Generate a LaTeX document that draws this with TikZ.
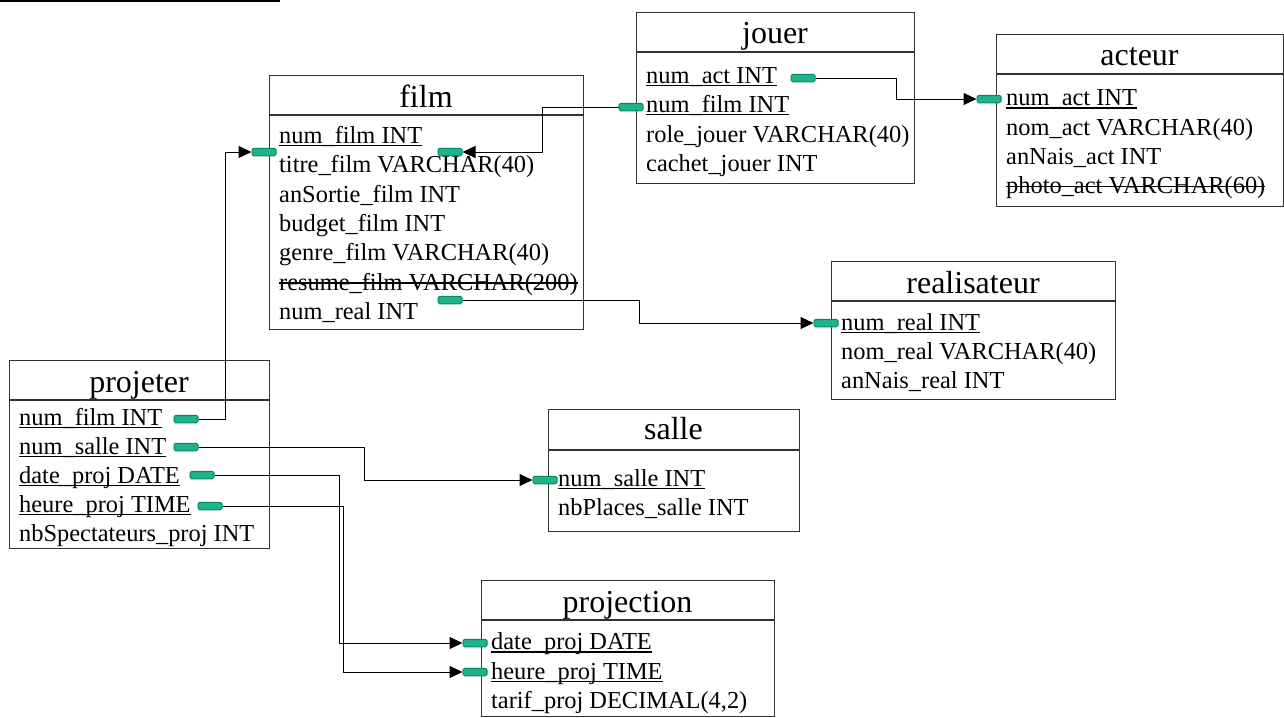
\documentclass[tikz,border=0pt]{standalone}
\usepackage{fontspec}
\setmainfont{Liberation Serif}
\usetikzlibrary{arrows.meta}
\definecolor{keyfill}{RGB}{32,178,138}
\definecolor{keyline}{RGB}{0,138,98}
\newcommand{\fldkey}[1]{\setbox0\hbox{#1}\rlap{\rule[-3pt]{\wd0}{1.5pt}}\box0}
\newcommand{\flddel}[1]{\setbox0\hbox{#1}\rlap{\rule[6.5pt]{\wd0}{1.5pt}}\box0}
\tikzset{
  tbl/.style={draw=black!80, line width=1.2pt, anchor=north west, inner sep=0},
  sep/.style={draw=black!80, line width=1.2pt},
  ttl/.style={anchor=base, inner sep=0, font=\fontsize{32}{38}\selectfont},
  fld/.style={anchor=base west, inner sep=0, font=\fontsize{24.4}{29}\selectfont},
  key/.style={draw=keyline, fill=keyfill, rounded corners=1.5pt, minimum width=24pt, minimum height=7.5pt, inner sep=0, line width=1pt},
  lnk/.style={draw=black, line width=1pt, -{Triangle[length=13pt,width=12pt]}}
}
\begin{document}
\begin{tikzpicture}
  [x=1pt,y=-1pt]
\useasboundingbox (0,0) rectangle (1284,717);
\draw[line width=1.5pt] (0,0.8) -- (280,0.8);

% film
\node (film)[tbl, minimum width=314, minimum height=254] at (269,75) {};
\draw[sep] (269,115) -- (583,115);
\node (filmT)[ttl] at (426,107) {film};
\node (film1)[fld] at (279,143) {\fldkey{num\_film INT}};
\node (film2)[fld] at (279,172) {titre\_film VARCHAR(40)};
\node (film3)[fld] at (279,202) {anSortie\_film INT};
\node (film4)[fld] at (279,231) {budget\_film INT};
\node (film5)[fld] at (279,260) {genre\_film VARCHAR(40)};
\node (film6)[fld] at (279,290) {\flddel{resume\_film VARCHAR(200)}};
\node (film7)[fld] at (279,319) {num\_real INT};

% jouer
\node (jouer)[tbl, minimum width=278, minimum height=171] at (636,12) {};
\draw[sep] (636,52) -- (914,52);
\node (jouerT)[ttl] at (775,44) {jouer};
\node (jouer1)[fld] at (646,83) {\fldkey{num\_act INT}};
\node (jouer2)[fld] at (646,112) {\fldkey{num\_film INT}};
\node (jouer3)[fld] at (646,142) {role\_jouer VARCHAR(40)};
\node (jouer4)[fld] at (646,171) {cachet\_jouer INT};

% acteur
\node (acteur)[tbl, minimum width=287, minimum height=172] at (996,34) {};
\draw[sep] (996,74) -- (1283,74);
\node (acteurT)[ttl] at (1139.5,66) {acteur};
\node (acteur1)[fld] at (1006,105.5) {\fldkey{num\_act INT}};
\node (acteur2)[fld] at (1006,135) {nom\_act VARCHAR(40)};
\node (acteur3)[fld] at (1006,164) {anNais\_act INT};
\node (acteur4)[fld] at (1006,193.5) {\flddel{photo\_act VARCHAR(60)}};

% realisateur
\node (real)[tbl, minimum width=284, minimum height=138] at (831,261) {};
\draw[sep] (831,301) -- (1115,301);
\node (realT)[ttl] at (973,293) {realisateur};
\node (real1)[fld] at (841,330) {\fldkey{num\_real INT}};
\node (real2)[fld] at (841,359) {nom\_real VARCHAR(40)};
\node (real3)[fld] at (841,388) {anNais\_real INT};

% projeter
\node (projeter)[tbl, minimum width=260, minimum height=188] at (9,360) {};
\draw[sep] (9,400) -- (269,400);
\node (projeterT)[ttl] at (139,392) {projeter};
\node (projeter1)[fld] at (19,425) {\fldkey{num\_film INT}};
\node (projeter2)[fld] at (19,454) {\fldkey{num\_salle INT}};
\node (projeter3)[fld] at (19,483) {\fldkey{date\_proj DATE}};
\node (projeter4)[fld] at (19,512) {\fldkey{heure\_proj TIME}};
\node (projeter5)[fld] at (19,541) {nbSpectateurs\_proj INT};

% salle
\node (salle)[tbl, minimum width=251, minimum height=122] at (548,409) {};
\draw[sep] (548,450) -- (799,450);
\node (salleT)[ttl] at (673.5,439) {salle};
\node (salle1)[fld] at (558,486) {\fldkey{num\_salle INT}};
\node (salle2)[fld] at (558,515) {nbPlaces\_salle INT};

% projection
\node (projection)[tbl, minimum width=293, minimum height=136] at (481,580) {};
\draw[sep] (481,620) -- (774,620);
\node (projectionT)[ttl] at (627.5,612) {projection};
\node (projection1)[fld] at (491,649.5) {\fldkey{date\_proj DATE}};
\node (projection2)[fld] at (491,679) {\fldkey{heure\_proj TIME}};
\node (projection3)[fld] at (491,708) {tarif\_proj DECIMAL(4,2)};

% cles
\node (kJf)[key] at (631,107) {};
\node (kFt)[key] at (450,152) {};
\node (kJa)[key] at (803,78) {};
\node (kAa)[key] at (989,99) {};
\node (kFr)[key] at (450,300) {};
\node (kRr)[key] at (826,323) {};
\node (kPf)[key] at (186,419) {};
\node (kFf)[key] at (264,152) {};
\node (kPs)[key] at (186,447) {};
\node (kSs)[key] at (545,480) {};
\node (kPd)[key] at (202,475) {};
\node (kQd)[key] at (475,643) {};
\node (kPh)[key] at (210,506) {};
\node (kQh)[key] at (475,672) {};

\draw[lnk] (kJf.west) -- ++(-76,0) |- (kFt.east);
\draw[lnk] (kJa.east) -- ++(81,0) |- (kAa.west);
\draw[lnk] (kFr.east) -- ++(177,0) |- (kRr.west);
\draw[lnk] (kPf.east) -- ++(27,0) |- (kFf.west);
\draw[lnk] (kPs.east) -- ++(166,0) |- (kSs.west);
\draw[lnk] (kPd.east) -- ++(125,0) |- (kQd.west);
\draw[lnk] (kPh.east) -- ++(121,0) |- (kQh.west);
\end{tikzpicture}
\end{document}
